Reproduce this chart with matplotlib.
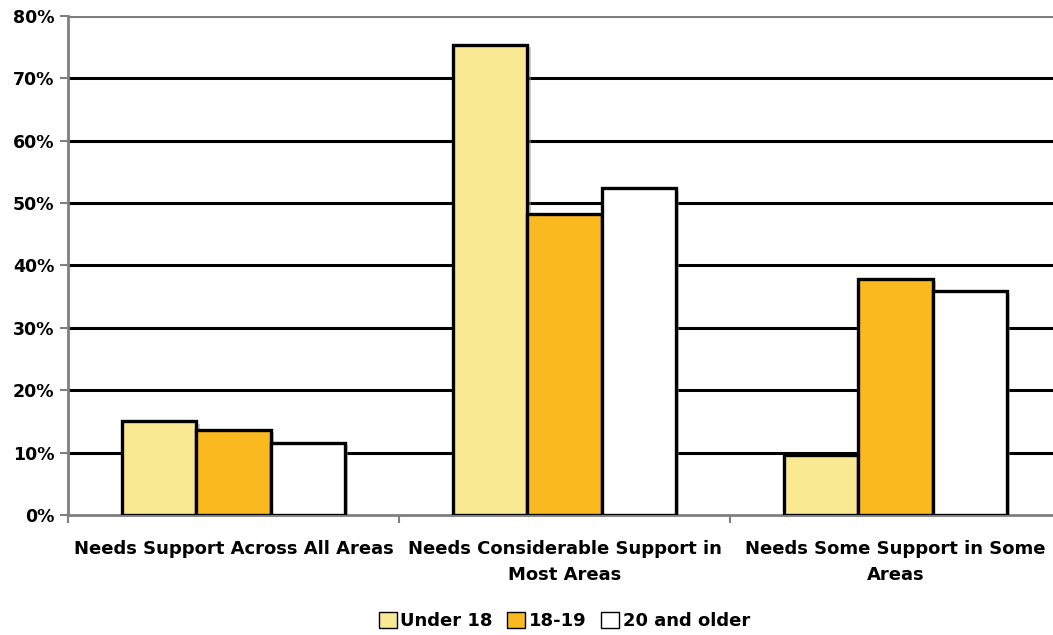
import numpy as np
import matplotlib
matplotlib.use("Agg")
import matplotlib.pyplot as plt
import matplotlib.patheffects as pe
from matplotlib.patches import Patch

# Support categories
categories = [
    "Needs Support Across All Areas",
    "Needs Considerable Support in\nMost Areas",
    "Needs Some Support in Some\nAreas",
]

# Share of each age group (%)
under_18 = [15.0, 75.4, 9.6]
age_18_19 = [13.7, 48.3, 37.9]
age_20_plus = [11.6, 52.4, 35.9]

series = ["Under 18", "18-19", "20 and older"]
colors = ["#FAE993", "#FBB920", "#FFFFFF"]

plt.rcParams["font.family"] = "DejaVu Sans"
plt.rcParams["font.weight"] = "bold"

fig = plt.figure(figsize=(10.53, 6.35), dpi=100)
ax = fig.add_axes([0.0646, 0.189, 0.943, 0.786])

x = np.arange(len(categories))
width = 0.224
shadow = [pe.SimplePatchShadow(offset=(2.5, -2), shadow_rgbFace="#999999", alpha=0.5), pe.Normal()]

for i, (vals, name) in enumerate(zip([under_18, age_18_19, age_20_plus], series)):
    ax.bar(x + (i - 1) * width, vals, width, color=colors[i], edgecolor="black",
           linewidth=2.4, zorder=3, path_effects=shadow, label=name)

ax.set_xlim(-0.5, 2.5)
ax.set_ylim(0, 80)
ax.set_yticks(np.arange(0, 81, 10))
ax.set_yticklabels([f"{v}%" for v in range(0, 81, 10)], fontsize=12.5, fontweight="bold")

# gridlines
for v in range(10, 80, 10):
    ax.axhline(v, color="black", linewidth=2.2, zorder=1)
ax.axhline(80, color="#7f7f7f", linewidth=2.2, zorder=1)

ax.set_xticks(x)
ax.set_xticklabels(categories, fontsize=13, fontweight="bold", linespacing=1.6)
ax.set_xticks([-0.5, 0.5, 1.5, 2.5], minor=True)
ax.tick_params(axis="x", which="major", length=0, pad=18)
ax.tick_params(axis="x", which="minor", length=6, color="#7f7f7f", width=1.5)
ax.tick_params(axis="y", length=6, color="#7f7f7f", width=1.5, pad=4)

for s in ["top", "right"]:
    ax.spines[s].set_visible(False)
ax.spines["left"].set_color("#7f7f7f")
ax.spines["left"].set_linewidth(2)
ax.spines["bottom"].set_color("#7f7f7f")
ax.spines["bottom"].set_linewidth(2)

handles = [Patch(facecolor=c, edgecolor="black", linewidth=1) for c in colors]
fig.legend(handles, series, loc="center", bbox_to_anchor=(0.536, 0.022), ncol=3,
           frameon=False, handlelength=1.0, handleheight=1.0,
           handletextpad=0.2, columnspacing=0.8, prop={"weight": "bold", "size": 13})

plt.savefig("out.png", dpi=100)
